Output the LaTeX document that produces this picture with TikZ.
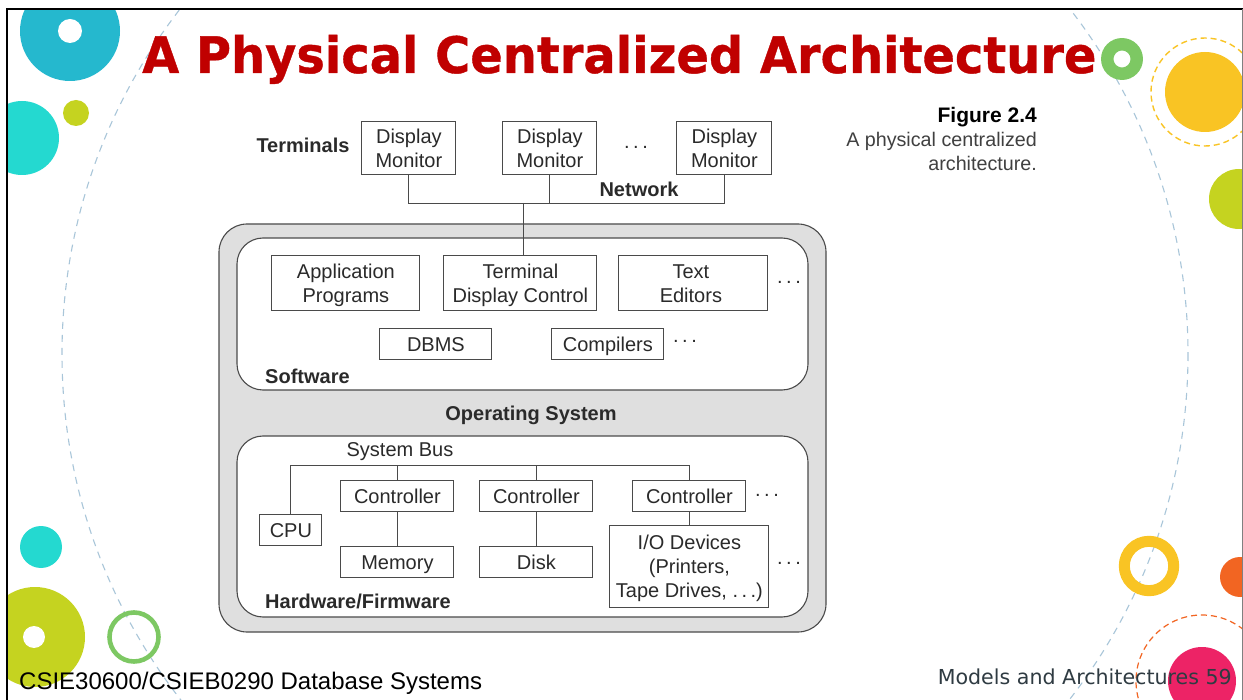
\documentclass[tikz,border=0pt]{standalone}
\usepackage{fontspec}
\setmainfont{Liberation Sans}
\newfontfamily\dejavu{DejaVu Sans}
\newfontfamily\titlef{DejaVu Sans Bold}[FakeBold=0.8]
\definecolor{titlered}{HTML}{C00000}
\definecolor{tealc}{HTML}{25B8CE}
\definecolor{turq}{HTML}{24D9D0}
\definecolor{limec}{HTML}{C5D320}
\definecolor{greenc}{HTML}{7DC863}
\definecolor{yellowc}{HTML}{F9C424}
\definecolor{orangec}{HTML}{F26522}
\definecolor{pinkc}{HTML}{ED2366}
\definecolor{arcblue}{HTML}{A9C6D9}
\definecolor{figline}{HTML}{4A4A4A}
\definecolor{figtext}{HTML}{2A2A2A}
\definecolor{figgray}{HTML}{DFDFDF}
\definecolor{footgray}{HTML}{2F3B42}
\tikzset{
  bx/.style={draw=figline,line width=0.9pt,fill=white,inner sep=0pt,align=center,text=figtext,
    font=\fontsize{20}{24}\selectfont},
  lbl/.style={inner sep=0pt,text=figtext,font=\fontsize{20}{24}\selectfont},
  blbl/.style={inner sep=0pt,text=figtext,font=\fontsize{20}{24}\selectfont\bfseries},
  wire/.style={draw=figline,line width=0.9pt},
  panel/.style={draw=figline,line width=1.1pt,rounded corners=#1},
  dots/.style={inner sep=0pt,text=figtext,font=\fontsize{20}{24}\selectfont},
  hole/.style={fill=white,draw=none}
}
\newcommand{\dotrow}{.\hspace{3.5pt}.\hspace{3.5pt}.}
\newcommand{\st}{\rule[-4.5pt]{0pt}{23pt}}
\begin{document}
\begin{tikzpicture}[x=1pt,y=-1pt]
\useasboundingbox (0,0) rectangle (1243,700);
\fill[white] (0,0) rectangle (1243,700);
\begin{scope}
\clip (8,9) rectangle (1242,700);
% decorative circles
\draw[arcblue,line width=1.1pt,dash pattern=on 7pt off 6pt] (625,354) circle[radius=563];
\fill[tealc] (70,31) circle[radius=50];
\fill[hole] (70,31) circle[radius=12];
\fill[turq] (22,138) circle[radius=37];
\fill[limec] (76,113) circle[radius=13];
\fill[turq] (41,547) circle[radius=21];
\fill[limec] (35,637) circle[radius=50];
\fill[hole] (34,637) circle[radius=11];
\draw[greenc,line width=4.6pt] (134,637) circle[radius=24.5];
\draw[greenc,line width=12.5pt] (1122,59) circle[radius=14.7];
\fill[yellowc] (1205,92) circle[radius=40];
\draw[yellowc,line width=1.4pt,dash pattern=on 6pt off 4pt] (1205,92) circle[radius=54];
\fill[limec] (1239,199) circle[radius=30];
\draw[yellowc,line width=11pt] (1149,566) circle[radius=24.7];
\fill[orangec] (1240,577) circle[radius=20];
\fill[pinkc] (1202,681) circle[radius=34];
\draw[orangec,line width=1.2pt,dash pattern=on 6pt off 4pt] (1202,681) circle[radius=66];
\end{scope}
% frame
\draw[black,line width=2.5pt] (7,700) -- (7,9) -- (1243,9);
\draw[gray,line width=1pt] (1242.5,9) -- (1242.5,700);
% title
\node[inner sep=0pt,anchor=base west,text=titlered,font=\titlef\fontsize{47.9}{56}\selectfont] (title) at (142,73) {\scalebox{1}[1.05]{A Physical Centralized Architecture}};
% panels
\node[panel=28pt,fill=figgray,minimum width=607,minimum height=408,inner sep=0pt] (os) at (522.5,428) {};
\node[panel=26pt,fill=white,minimum width=571,minimum height=152,inner sep=0pt] (sw) at (522.5,314) {};
\node[panel=26pt,fill=white,minimum width=571,minimum height=181,inner sep=0pt] (hw) at (522.5,526.5) {};
% terminals
\node[bx,minimum width=94,minimum height=53] (d1) at (408.9,148.4) {\st Display\\\st Monitor};
\node[bx,minimum width=94,minimum height=53] (d2) at (549.9,148.4) {\st Display\\\st Monitor};
\node[bx,minimum width=95,minimum height=53] (d3) at (724.4,148.4) {\st Display\\\st Monitor};
\node[blbl,anchor=center] (term) at (303,145) {Terminals};
\node[blbl,anchor=center] (net) at (639,189) {Network};
\node[dots] (dt) at (636,147) {\dotrow};
% software
\node[bx,minimum width=148,minimum height=55] (app) at (345.9,283.4) {\st Application\\\st Programs};
\node[bx,minimum width=153,minimum height=55] (tdc) at (520.4,283.4) {\st Terminal\\\st Display Control};
\node[bx,minimum width=149,minimum height=55] (ted) at (693.4,283.4) {\st Text\hspace*{5pt}\\\st Editors\hspace*{5pt}};
\node[bx,minimum width=112,minimum height=31] (dbms) at (435.9,344.4) {\st DBMS};
\node[bx,minimum width=112,minimum height=31] (comp) at (607.9,344.4) {\st Compilers};
\node[dots] (ds1) at (789,282) {\dotrow};
\node[dots] (ds2) at (685,341) {\dotrow};
\node[blbl,anchor=west] (swl) at (265,376) {Software};
\node[blbl] (osl) at (531,415) {Operating System};
% network wires
\coordinate (nj) at (523.9,203);
\draw[wire] (d1.south) |- (nj);
\draw[wire] (d3.south) |- (nj);
\draw[wire] (d2.south) -- (d2.south |- nj);
\draw[wire] (nj) -- (nj |- tdc.north);
% hardware
\node[lbl] (bus) at (400,452) {System Bus};
\node[bx,minimum width=113,minimum height=31] (c1) at (397.4,496.4) {\st Controller};
\node[bx,minimum width=113,minimum height=31] (c2) at (536.4,496.4) {\st Controller};
\node[bx,minimum width=113,minimum height=31] (c3) at (689.4,496.4) {\st Controller};
\node[bx,minimum width=113,minimum height=31] (mem) at (397.4,562.4) {\st Memory};
\node[bx,minimum width=113,minimum height=31] (disk) at (536.4,562.4) {\st Disk};
\node[bx,minimum width=62,minimum height=31] (cpu) at (290.9,530.4) {\st CPU};
\node[bx,minimum width=159,minimum height=82] (io) at (689.4,566.9) {\st I/O Devices\\\st (Printers,\\\st Tape Drives, \dotrow)};
\node[dots] (dh1) at (767,495) {\dotrow};
\node[dots] (dh2) at (789,563) {\dotrow};
\node[blbl,anchor=west] (hwl) at (265,601) {Hardware/Firmware};
\coordinate (bj) at (536.4,465);
\draw[wire] (cpu.north) |- (bj);
\draw[wire] (c3.north) |- (bj);
\draw[wire] (c1.north) -- (c1.north |- bj);
\draw[wire] (c2.north) -- (bj);
\draw[wire] (c1) -- (mem);
\draw[wire] (c2) -- (disk);
\draw[wire] (c3) -- (io);
% figure caption
\node[blbl,anchor=east,text=black,font=\fontsize{21}{24}\selectfont\bfseries] (figt) at (1037,117) {Figure 2.4};
\node[lbl,anchor=north east,align=right,text=black!75,font=\fontsize{19.7}{24}\selectfont] (figc) at (1037,132) {A physical centralized\\architecture.};
% footer
\node[inner sep=0pt,anchor=base west,text=black,font=\fontsize{24}{28}\selectfont] (fl) at (19,689) {CSIE30600/CSIEB0290 Database Systems};
\node[inner sep=0pt,anchor=base east,text=footgray,font=\dejavu\fontsize{20.6}{26}\selectfont] (fr) at (1232,684) {Models and Architectures 59};
\end{tikzpicture}
\end{document}
